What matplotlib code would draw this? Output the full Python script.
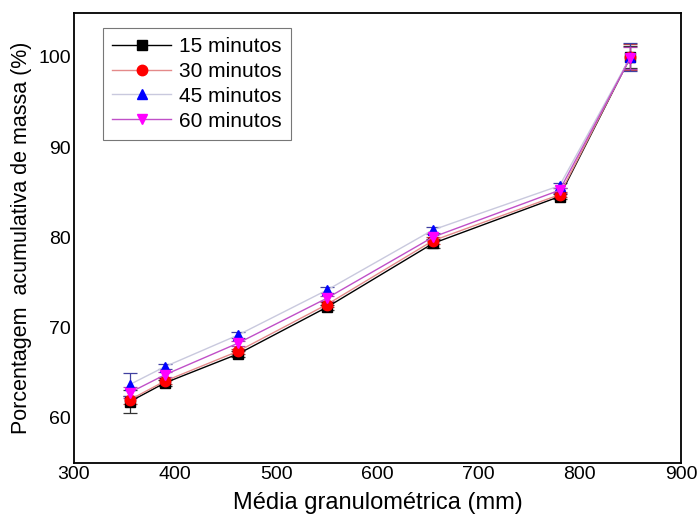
import numpy as np
import matplotlib
matplotlib.use("Agg")
import matplotlib.pyplot as plt

plt.rcParams["font.family"] = ["Liberation Sans", "DejaVu Sans"]

# Dados
media = [355, 390, 462, 550, 655, 780, 850]
labels = ["15 minutos", "30 minutos", "45 minutos", "60 minutos"]

m15 = [61.7, 63.8, 67.0, 72.2, 79.3, 84.5, 100.0]
m30 = [61.9, 64.0, 67.3, 72.5, 79.6, 84.7, 100.0]
m45 = [63.6, 65.6, 69.1, 74.1, 80.8, 85.7, 100.0]
m60 = [62.7, 64.7, 68.2, 73.2, 80.0, 85.2, 99.9]

e15 = [1.3, 0.3, 0.3, 0.3, 0.5, 0.3, 1.2]
e30 = [0.4, 0.3, 0.3, 0.3, 0.4, 0.3, 1.4]
e45 = [1.3, 0.3, 0.3, 0.3, 0.3, 0.3, 1.6]
e60 = [0.6, 0.3, 0.3, 0.3, 0.3, 0.3, 1.2]

series = [m15, m30, m45, m60]
erros = [e15, e30, e45, e60]
markers = ["s", "o", "^", "v"]
mcolors = ["black", "red", "blue", "magenta"]
lcolors = ["black", "#e48a8a", "#c9c9de", "#c050c8"]
ecolors = ["#333333", "#c04040", "#4040a0", "#b040b0"]

fig = plt.figure(figsize=(6.97, 5.15), dpi=100)
ax = fig.add_axes([0.106, 0.101, 0.871, 0.874])

for y, e, mk, mc, lc, ec, lab in zip(series, erros, markers, mcolors, lcolors, ecolors, labels):
    ax.errorbar(media, y, yerr=e, fmt="none", ecolor=ec, elinewidth=0.9,
                capsize=5, capthick=0.9, zorder=2)
    ax.plot(media, y, color=lc, linewidth=1.0, marker=mk, markersize=7.5,
            markerfacecolor=mc, markeredgecolor=mc, label=lab, zorder=3)

ax.set_xlim(300, 900)
ax.set_ylim(54.9, 104.9)
ax.set_xticks([300, 400, 500, 600, 700, 800, 900])
ax.set_yticks([60, 70, 80, 90, 100])
ax.tick_params(length=0, labelsize=14, pad=2)
for s in ax.spines.values():
    s.set_linewidth(1.3)

ax.set_xlabel("Média granulométrica (mm)", fontsize=17, labelpad=7)
ax.set_ylabel("Porcentagem  acumulativa de massa (%)", fontsize=15.5, labelpad=5)

leg = ax.legend(loc="upper left", bbox_to_anchor=(0.048, 0.967), borderaxespad=0,
                fontsize=15, frameon=True, fancybox=False, edgecolor="#555555",
                handlelength=2.8, handletextpad=0.4, labelspacing=0.28,
                borderpad=0.45)
leg.get_frame().set_linewidth(0.8)

fig.savefig("out.png", dpi=100)
